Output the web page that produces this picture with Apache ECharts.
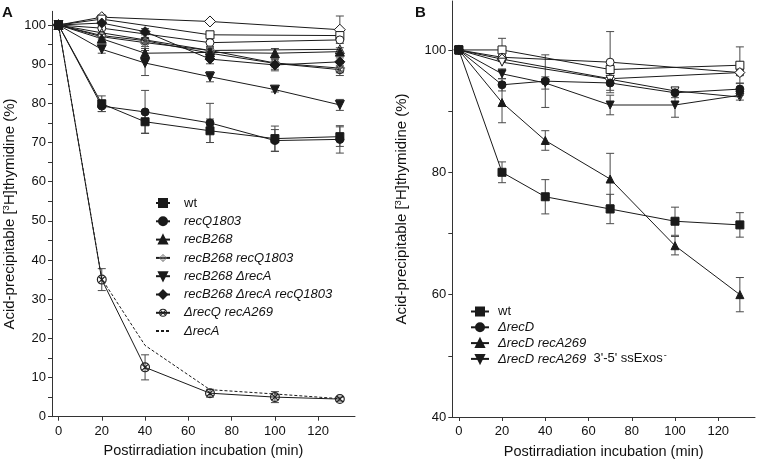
<!DOCTYPE html>
<html><head><meta charset="utf-8">
<script src="https://cdn.jsdelivr.net/npm/echarts@6/dist/echarts.min.js"></script>
<style>html,body{margin:0;padding:0;background:#fff}#c{width:757px;height:464px}</style>
</head><body><div id="c"></div>
<script>
// ---------- data ----------
const times = [0, 20, 40, 70, 100, 130];
const timesSparse = [0, 20, 70, 130];
const xTicks = [0, 20, 40, 60, 80, 100, 120];
const yTicksA = [0, 10, 20, 30, 40, 50, 60, 70, 80, 90, 100];
const yMinorA = [0,5,10,15,20,25,30,35,40,45,50,55,60,65,70,75,80,85,90,95,100];
const yTicksB = [40, 60, 80, 100];
const yMinorB = [40, 50, 60, 70, 80, 90, 100];

// Panel A
const wtA = [100, 79.9, 75.3, 73.0, 71.0, 71.5];
const wtAErr = [0, 2.0, 2.9, 3.0, 3.2, 2.5];
const recQ1803A = [100, 79.3, 77.8, 75.0, 70.5, 70.8];
const recQ1803AErr = [0, 1.4, 5.5, 5.0, 2.8, 3.5];
const recB268A = [100, 96.5, 92.8, 93.0, 92.8, 93.2];
const recB268AErr = [0, 0.8, 1.2, 1.0, 1.2, 1.0];
const recB268recQ1803A = [100, 97.0, 95.5, 93.5, 90.3, 89.0];
const recB268recQ1803AErr = [0, 0.8, 1.0, 1.0, 1.0, 1.2];
const recB268dRecAA = [100, 93.8, 90.3, 86.8, 83.5, 79.6];
const recB268dRecAAErr = [0, 1.0, 3.2, 1.3, 0.6, 1.4];
const recB268dRecArecQA = [100, 100.5, 98.3, 91.3, 89.8, 90.6];
const recB268dRecArecQAErr = [0, 0.8, 0.8, 1.2, 1.5, 1.0];
const dRecQrecA269A = [100, 35.0, 12.6, 6.0, 5.0, 4.5];
const dRecQrecA269AErr = [0, 2.8, 3.2, 1.0, 1.4, 0.5];
const dRecAA = [100, 35.2, 18.2, 6.9, 5.8, 4.6];
// unlabeled open-symbol curves in panel A (time points 0,20,70,130)
const openDiamondA = [100, 102.0, 100.9, 98.8];
const openDiamondAErr = [0, 0.5, 0.5, 3.5];
const openSquareA = [100, 101.5, 97.5, 97.3];
const openCircleA = [100, 99.2, 95.5, 96.2];
const openTriangleA = [100, 98.0, 93.5, 93.8];
const crossCircle2A = [100, 97.3, 96.0, 92.8, 90.2, 88.6];
const crossCircle2AErr = [0, 0.5, 0.8, 1.5, 1.5, 1.5];

// Panel B
const wtB = [100, 80.0, 76.0, 74.0, 72.0, 71.4];
const wtBErr = [0, 1.7, 2.8, 2.4, 2.3, 2.0];
const dRecDB = [100, 94.3, 94.9, 94.6, 93.0, 93.6];
const dRecDBErr = [0, 1.0, 4.3, 1.2, 0.8, 1.0];
const dRecDrecA269B = [100, 91.4, 85.2, 78.9, 68.0, 60.0];
const dRecDrecA269BErr = [0, 3.3, 1.6, 4.2, 1.5, 2.8];
const exosB = [100, 96.1, 94.6, 91.0, 91.0, 92.6];
const exosBErr = [0, 0.8, 1.0, 1.6, 2.0, 0.8];
const openSquareB = [100, 100.0, 96.8, 97.5];
const openSquareBErr = [0, 1.9, 0.5, 3.0];
const openCircleB = [100, 98.8, 98.0, 96.3];
const openCircleBErr = [0, 0.5, 5.0, 0.5];
const openDiamondB = [100, 98.5, 95.3, 96.3];
const timesTriB = [0, 20, 70, 100, 130];
const openDownTriB = [100, 98.0, 95.2, 93.3, 92.3];

const legendA = ['wt', 'recQ1803', 'recB268', 'recB268 recQ1803', 'recB268 ΔrecA', 'recB268 ΔrecA recQ1803', 'ΔrecQ recA269', 'ΔrecA'];
const legendB = ['wtB', 'ΔrecD', 'ΔrecD recA269', "ΔrecD recA269 3'-5' ssExos-"];

// ---------- symbols ----------
const SYM_XCIRCLE = 'path://M0,-10 A10,10 0 1,1 0,10 A10,10 0 1,1 0,-10 Z M0,-7.6 A7.6,7.6 0 1,0 0,7.6 A7.6,7.6 0 1,0 0,-7.6 Z M-5.3,-7.0 L7.0,5.3 L5.3,7.0 L-7.0,-5.3 Z M-5.3,7.0 L-7.0,5.3 L5.3,-7.0 L7.0,-5.3 Z';
const SYM_DPLUS = 'path://M0,-10 L10,0 L0,10 L-10,0 Z M0,-7.8 L-7.8,0 L0,7.8 L7.8,0 Z M-0.9,-6.5 L0.9,-6.5 L0.9,6.5 L-0.9,6.5 Z M-6.5,-0.9 L6.5,-0.9 L6.5,0.9 L-6.5,0.9 Z';

const LINE = '#1a1a1a';
const ERR = '#4a4a4a';
const series = [];
function pairs(xs, ys) { return xs.map((x, i) => [x, ys[i]]); }
function addLine(name, xs, ys, symbol, size, idx, extra) {
  series.push(Object.assign({
    type: 'line', name: name, xAxisIndex: idx, yAxisIndex: idx,
    data: pairs(xs, ys), symbol: symbol, symbolSize: size, showSymbol: true,
    lineStyle: { color: LINE, width: 1 },
    itemStyle: { color: LINE, borderColor: LINE, borderWidth: 1 },
    z: 3, animation: false, emphasis: { disabled: true }
  }, extra || {}));
}
function renderErr(params, api) {
  const x = api.value(0), y = api.value(1), e = api.value(2);
  const t = api.coord([x, y + e]), b = api.coord([x, y - e]);
  const w = 4;
  const st = { stroke: ERR, lineWidth: 1 };
  return { type: 'group', children: [
    { type: 'line', shape: { x1: t[0], y1: t[1], x2: b[0], y2: b[1] }, style: st },
    { type: 'line', shape: { x1: t[0] - w, y1: t[1], x2: t[0] + w, y2: t[1] }, style: st },
    { type: 'line', shape: { x1: b[0] - w, y1: b[1], x2: b[0] + w, y2: b[1] }, style: st }
  ]};
}
function addErr(xs, ys, es, idx) {
  const d = [];
  xs.forEach((x, i) => { if (es[i] > 0.3) d.push([x, ys[i], es[i]]); });
  series.push({ type: 'custom', name: '_err', xAxisIndex: idx, yAxisIndex: idx,
    data: d, renderItem: renderErr, z: 2, animation: false, silent: true });
}
const open = { itemStyle: { color: '#fff', borderColor: LINE, borderWidth: 1 } };
const pathStyle = (c) => ({ itemStyle: { color: c, borderWidth: 0 } });

// Panel A unlabeled open curves
addLine('_oD', timesSparse, openDiamondA, 'diamond', 11, 0, open); addErr(timesSparse, openDiamondA, openDiamondAErr, 0);
addLine('_oS', timesSparse, openSquareA, 'rect', 8, 0, open);
addLine('_oC', timesSparse, openCircleA, 'circle', 8, 0, open);
addLine('_oT', timesSparse, openTriangleA, 'triangle', 9, 0, open);
addLine('_xc2', times, crossCircle2A, SYM_XCIRCLE, 9, 0, pathStyle('#222')); addErr(times, crossCircle2A, crossCircle2AErr, 0);
// Panel A labeled
addLine('ΔrecA', times, dRecAA, 'none', 0, 0, { lineStyle: { color: LINE, width: 1, type: [3, 2] } });
addLine('ΔrecQ recA269', times, dRecQrecA269A, SYM_XCIRCLE, 10, 0, pathStyle('#222')); addErr(times, dRecQrecA269A, dRecQrecA269AErr, 0);
addLine('recB268 recQ1803', times, recB268recQ1803A, SYM_DPLUS, 11, 0, pathStyle('#6e6e6e')); addErr(times, recB268recQ1803A, recB268recQ1803AErr, 0);
addLine('recB268', times, recB268A, 'triangle', 9, 0); addErr(times, recB268A, recB268AErr, 0);
addLine('recB268 ΔrecA', times, recB268dRecAA, 'triangle', 9, 0, { symbolRotate: 180 }); addErr(times, recB268dRecAA, recB268dRecAAErr, 0);
addLine('recB268 ΔrecA recQ1803', times, recB268dRecArecQA, 'diamond', 10, 0); addErr(times, recB268dRecArecQA, recB268dRecArecQAErr, 0);
addLine('recQ1803', times, recQ1803A, 'circle', 8, 0); addErr(times, recQ1803A, recQ1803AErr, 0);
addLine('wt', times, wtA, 'rect', 8, 0); addErr(times, wtA, wtAErr, 0);

// Panel B unlabeled open curves
addLine('_boS', timesSparse, openSquareB, 'rect', 8, 1, open); addErr(timesSparse, openSquareB, openSquareBErr, 1);
addLine('_boC', timesSparse, openCircleB, 'circle', 8, 1, open); addErr(timesSparse, openCircleB, openCircleBErr, 1);
addLine('_boD', timesSparse, openDiamondB, 'diamond', 10, 1, open);
addLine('_boT', timesTriB, openDownTriB, 'triangle', 8, 1, Object.assign({ symbolRotate: 180 }, open));
// Panel B labeled
addLine("ΔrecD recA269 3'-5' ssExos-", times, exosB, 'triangle', 8, 1, { symbolRotate: 180 }); addErr(times, exosB, exosBErr, 1);
addLine('ΔrecD recA269', times, dRecDrecA269B, 'triangle', 8, 1); addErr(times, dRecDrecA269B, dRecDrecA269BErr, 1);
addLine('ΔrecD', times, dRecDB, 'circle', 8, 1); addErr(times, dRecDB, dRecDBErr, 1);
addLine('wtB', times, wtB, 'rect', 8, 1); addErr(times, wtB, wtBErr, 1);

const FONT = 'Liberation Sans, Arial, sans-serif';
const legendFmt = {
  'wt': '{n|wt}', 'wtB': '{n|wt}',
  "ΔrecD recA269 3'-5' ssExos-": "{i|ΔrecD recA269}{n|  3'-5' ssExos}{s|-}"
};
function fmt(name) { return legendFmt[name] || ('{i|' + name + '}'); }
const rich = {
  n: { fontFamily: FONT, fontSize: 13, color: '#111', lineHeight: 16 },
  i: { fontFamily: FONT, fontSize: 13, fontStyle: 'italic', color: '#111', lineHeight: 16 },
  s: { fontFamily: FONT, fontSize: 9, color: '#111', lineHeight: 16, verticalAlign: 'top', padding: [0, 0, 6, 1] }
};
const nameRich = {
  b: { fontFamily: FONT, fontSize: 15, color: '#111', lineHeight: 18 },
  sup: { fontFamily: FONT, fontSize: 9.5, color: '#111', lineHeight: 18, verticalAlign: 'top', padding: [0, 0, 8, 0] }
};
const yName = '{b|Acid-precipitable [}{sup|3}{b|H]thymidine (%)}';

function xAxis(idx) {
  return { type: 'value', gridIndex: idx, min: -3, max: 137,
    name: 'Postirradiation incubation (min)', nameLocation: 'middle', nameGap: 27,
    nameTextStyle: { fontFamily: FONT, fontSize: 14.5, color: '#111' },
    axisLine: { show: true, onZero: false, lineStyle: { color: '#333', width: 1 } },
    axisTick: { show: true, length: 4, customValues: xTicks, lineStyle: { color: '#333' } },
    axisLabel: { customValues: xTicks, margin: 8, fontFamily: FONT, fontSize: 13, color: '#111' },
    splitLine: { show: false } };
}
function yAxis(idx, min, max, ticks, minor, gap) {
  return { type: 'value', gridIndex: idx, min: min, max: max,
    name: yName, nameLocation: 'middle', nameGap: gap,
    nameTextStyle: { rich: nameRich },
    axisLine: { show: true, onZero: false, lineStyle: { color: '#333', width: 1 } },
    axisTick: { show: true, length: 4, customValues: minor, lineStyle: { color: '#333' } },
    axisLabel: { customValues: ticks, margin: 6, fontFamily: FONT, fontSize: 13, color: '#111' },
    splitLine: { show: false } };
}
const legendDataA = legendA.map(n => n === 'ΔrecA' ? { name: n, itemStyle: { opacity: 0 } } : n);

const chart = echarts.init(document.getElementById('c'), null, { renderer: 'canvas' });
chart.setOption({
  backgroundColor: '#fff',
  animation: false,
  title: [
    { text: 'A', left: 2, top: 5, padding: 0, textStyle: { fontFamily: FONT, fontSize: 15, fontWeight: 'bold', color: '#111' } },
    { text: 'B', left: 415, top: 5, padding: 0, textStyle: { fontFamily: FONT, fontSize: 15, fontWeight: 'bold', color: '#111' } }
  ],
  grid: [
    { left: 51.7, top: 11.3, width: 303.3, height: 405.4 },
    { left: 452.3, top: 1, width: 302.7, height: 416.3 }
  ],
  xAxis: [xAxis(0), xAxis(1)],
  yAxis: [yAxis(0, 0, 103.5, yTicksA, yMinorA, 33), yAxis(1, 40, 108, yTicksB, yMinorB, 41)],
  legend: [
    { data: legendDataA, orient: 'vertical', left: 150, top: 190, itemWidth: 14, itemHeight: 10, itemGap: 2.3,
      selectedMode: false, formatter: fmt, textStyle: { fontSize: 13, lineHeight: 16, rich: rich, padding: [0, 0, 0, 9] } },
    { data: legendB, orient: 'vertical', left: 465, top: 298.5, itemWidth: 18, itemHeight: 10, itemGap: -0.2,
      selectedMode: false, formatter: fmt, textStyle: { fontSize: 13, lineHeight: 16, rich: rich, padding: [0, 0, 0, 4] } }
  ],
  series: series
});
</script></body></html>
